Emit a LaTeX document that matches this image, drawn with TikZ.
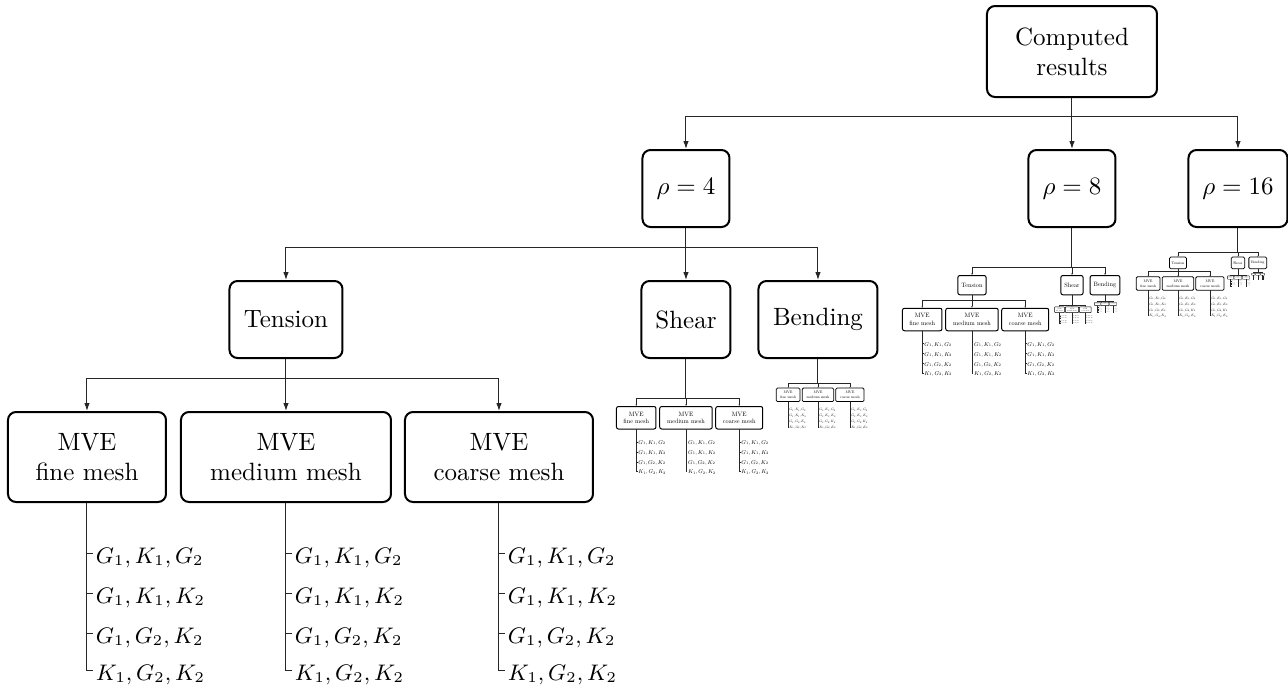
\documentclass[tikz,border=0pt]{standalone}
\usetikzlibrary{arrows.meta}
\def\myblw{0.8}\def\myclw{0.4}\def\myrc{3.2}\def\myal{3.2}\def\myaw{2.2}
\newcommand\mysetsc[1]{%
  \pgfmathsetmacro\myblw{max(0.8*sqrt(#1),0.12)}%
  \pgfmathsetmacro\myclw{max(0.4*sqrt(#1),0.08)}%
  \pgfmathsetmacro\myrc{max(3.2*#1,0.2)}%
  \pgfmathsetmacro\myal{max(3.2*#1,0.3)}%
  \pgfmathsetmacro\myaw{max(2.2*#1,0.25)}}
\tikzset{
  box/.style={draw=black, line width=\myblw pt, rounded corners=\myrc pt, align=center, inner sep=0pt},
  conn/.style={draw=black!85, line width=\myclw pt},
  arr/.style={conn, -{Latex[length=\myal pt, width=\myaw pt]}},
  leaf/.style={anchor=west, font=\small, inner xsep=1pt, inner ysep=0pt, text height=8pt, text depth=0pt},
}
% MVE-level subtree: #1 prefix, #2 junction, #3 local scale, #4 effective scale
\newcommand\mvesub[4]{%
\begin{scope}[shift={#2}, scale=#3, transform shape, name prefix=#1-]
  \mysetsc{#4}
  \coordinate (j) at (0,0);
  \node[box, minimum width=63.2pt, minimum height=36pt] (f) at (-199,79) {MVE\\fine mesh};
  \node[box, minimum width=84pt, minimum height=36pt] (m) at (0,79) {MVE\\medium mesh};
  \node[box, minimum width=75.2pt, minimum height=36pt] (c) at (213,79) {MVE\\coarse mesh};
  \draw[arr] (j) -| (f.north);
  \draw[arr] (j) -- (m.north);
  \draw[arr] (j) -| (c.north);
  \foreach \n/\x in {f/-193, m/6, c/219}{
    \node[leaf] (\n1) at (\x,175) {$G_1,K_1,G_2$};
    \node[leaf] (\n2) at (\x,215) {$G_1,K_1,K_2$};
    \node[leaf] (\n3) at (\x,255) {$G_1,G_2,K_2$};
    \node[leaf] (\n4) at (\x,292) {$K_1,G_2,K_2$};
    \draw[conn] (\n.south) |- (\n4.west);
    \draw[conn] (\n.south) |- (\n1.west);
    \draw[conn] (\n.south) |- (\n2.west);
    \draw[conn] (\n.south) |- (\n3.west);
  }
\end{scope}}
% rho-level subtree
\newcommand\rhosub[4]{%
\begin{scope}[shift={#2}, scale=#3, transform shape, name prefix=#1-]
  \mysetsc{#4}
  \coordinate (j) at (0,0);
  \node[box, minimum width=45.2pt, minimum height=30.8pt] (T) at (-400,72.5) {Tension};
  \node[box, minimum width=35.6pt, minimum height=30.8pt] (S) at (0,72.5) {Shear};
  \node[box, minimum width=47.6pt, minimum height=30.8pt] (B) at (132,72.5) {Bending};
  \draw[arr] (j) -| (T.north);
  \draw[arr] (j) -- (S.north);
  \draw[arr] (j) -| (B.north);
  \pgfmathsetmacro\myea{#4}\pgfmathsetmacro\myeb{#4*0.25}\pgfmathsetmacro\myec{#4*0.15}
  \mvesub{#1-T}{(-400,131)}{1}{\myea}
  \mvesub{#1-S}{(0,151)}{0.25}{\myeb}
  \mvesub{#1-B}{(132,136)}{0.15}{\myec}
  \draw[conn] (T.south) -- (T-j);
  \draw[conn] (S.south) -- (S-j);
  \draw[conn] (B.south) -- (B-j);
\end{scope}}
\begin{document}
\begin{tikzpicture}[x=0.4pt, y=-0.4pt, shift={(-1238,-252)}]
\useasboundingbox (0,0) rectangle (1288,688);
\node[box, minimum width=68pt, minimum height=36.4pt] (cr) at (1072,51.5) {Computed\\results};
\node[box, minimum width=34.8pt, minimum height=30.8pt] (p4) at (686,188.5) {$\rho=4$};
\node[box, minimum width=34.8pt, minimum height=30.8pt] (p8) at (1072,188.5) {$\rho=8$};
\node[box, minimum width=39.6pt, minimum height=30.8pt] (p16) at (1238,188.5) {$\rho=16$};
\coordinate (j) at (1072,116);
\draw[conn] (cr.south) -- (j);
\draw[arr] (j) -| (p4.north);
\draw[arr] (j) -- (p8.north);
\draw[arr] (j) -| (p16.north);
\rhosub{r4}{(686,247)}{1}{1}
\rhosub{r8}{(1072,267)}{0.25}{0.25}
\rhosub{r16}{(1238,252)}{0.15}{0.15}
\draw[conn] (p4.south) -- (r4-j);
\draw[conn] (p8.south) -- (r8-j);
\draw[conn] (p16.south) -- (r16-j);
\end{tikzpicture}
\end{document}
